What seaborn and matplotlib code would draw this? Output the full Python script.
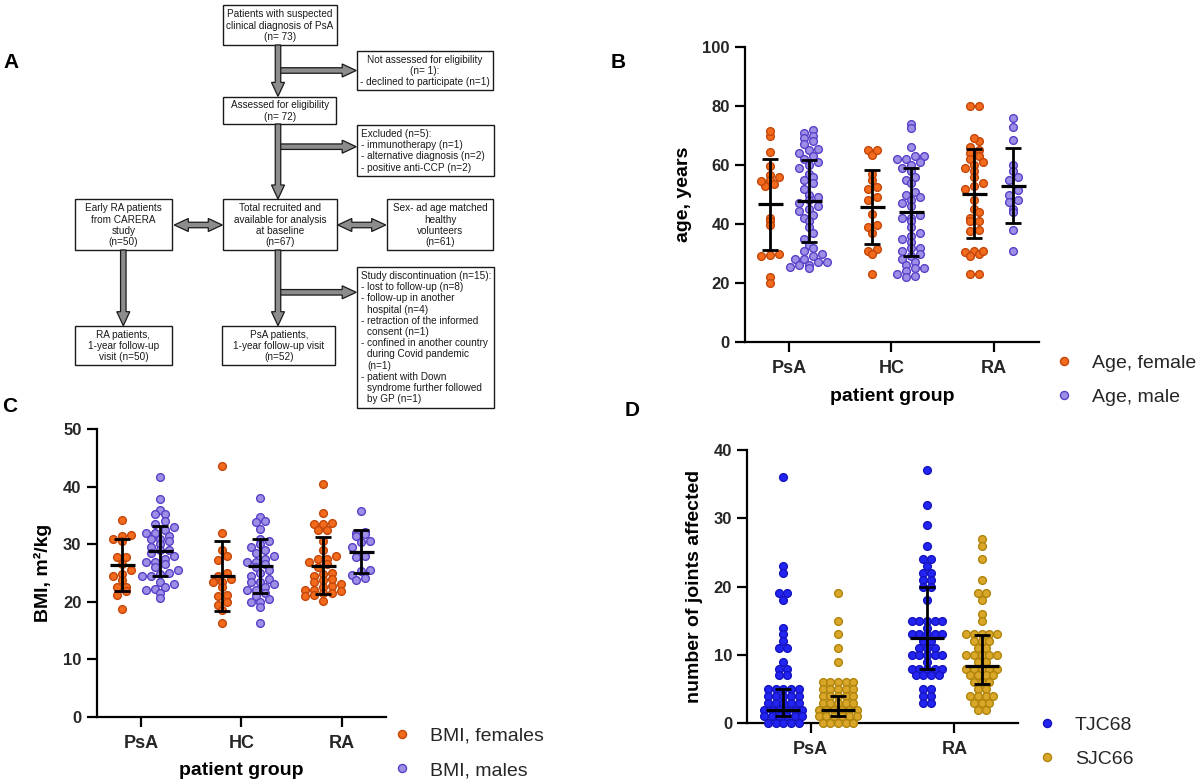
import numpy as np
import pandas as pd
import matplotlib
matplotlib.use("Agg")
import matplotlib.pyplot as plt
import seaborn as sns
from matplotlib.patches import Rectangle, Polygon
from matplotlib.lines import Line2D

# ---------------------------------------------------------------- data
groups_bc = ["PsA", "HC", "RA"]
groups_d = ["PsA", "RA"]

# Panel B : age, years
age_psa_f = [70, 71.5, 64.5, 59.5, 56.5, 56, 55, 53.5, 53, 54.5, 42, 41, 39.5, 30, 29, 29.5, 22, 20]
age_psa_m = [72, 71, 70, 69, 68, 67, 65.5, 65, 64, 63, 62, 61, 60, 59, 57, 56, 55, 54, 52, 50,
             49, 48, 47, 46, 45, 44.5, 43, 42, 41, 39, 37, 35, 33, 32, 31, 30, 29, 28, 28, 27,
             27, 26, 26, 25, 25.5]
age_hc_f = [65, 63.5, 65, 55, 57, 52, 52.5, 49, 48, 43.5, 39.5, 39, 37, 31.5, 31, 30, 23]
age_hc_m = [74, 72.5, 66, 63, 63, 62, 62, 61, 60, 59, 58, 56, 55, 54, 51, 50, 49, 48, 47, 46,
            43, 42, 42, 41, 39, 37, 36, 35, 34, 32, 32, 31, 30, 29, 28, 27, 26, 25, 25, 24,
            23, 22.5, 22]
age_ra_f = [80, 80, 68, 69, 66, 65, 64, 63, 62, 61, 60, 59, 58, 56, 54, 53, 52, 48, 45, 44,
            42, 41, 41, 38, 37.5, 31, 30.5, 29, 30, 31, 23, 23]
age_ra_m = [76, 73, 68.5, 60, 58, 56, 55, 51.5, 50, 48, 47.5, 45, 44, 38, 31]
age_f_mean = [46.8, 45.7, 50.2]
age_f_lo = [31.2, 33.1, 35.1]
age_f_hi = [62.0, 58.3, 65.3]
age_m_mean = [47.8, 44.0, 53.0]
age_m_lo = [33.8, 29.3, 40.5]
age_m_hi = [61.7, 58.9, 65.9]
age_labels = ["Age, female", "Age, male"]
age_yticks = [0, 20, 40, 60, 80, 100]

# Panel C : BMI
bmi_psa_f = [34.2, 31.5, 31.6, 31, 30.5, 27.7, 27.7, 26.5, 25.5, 24.8, 24.5, 23.8, 22.5, 22.5,
             21.8, 21.2, 18.7]
bmi_psa_m = [41.7, 37.9, 36, 35.3, 35.2, 34, 33.5, 33, 32.5, 32, 32, 31.5, 31, 31, 30.5, 30,
             29.5, 29, 29, 28.5, 28, 27.5, 27, 27, 26.5, 26, 25.5, 25, 24.8, 24.5, 24.5, 23.5,
             23, 22.5, 22.2, 22, 21.5, 20.6]
bmi_hc_f = [43.6, 31.9, 29, 28, 27.3, 25, 24.5, 24, 23.5, 23.5, 22.5, 21.2, 21, 20, 19.5, 18.5, 16.3]
bmi_hc_m = [38, 34.7, 34, 33.8, 32.7, 31, 30.5, 30, 29.5, 29, 28.5, 28, 27.5, 27, 27, 26.5, 26,
            25.5, 25, 24.5, 24, 23.5, 23.5, 23, 22.5, 22, 22, 21.5, 21, 20.5, 20, 20, 19, 16.3]
bmi_ra_f = [40.4, 35.5, 33.7, 33.5, 33.6, 32.5, 32.5, 24.8, 30.5, 23.8, 22.8, 29, 21.6, 28, 27.5,
            27.5, 27, 26.5, 26, 25, 24.5, 24, 23.5, 23, 22.5, 22, 22, 21.8, 21.5, 21.2, 21, 20.2]
bmi_ra_m = [35.8, 32.2, 32, 31.8, 31.5, 30.6, 30.4, 29.5, 28, 27.8, 25.6, 25.3, 24.7, 24.2, 23.7]
bmi_f_mean = [26.4, 24.5, 26.2]
bmi_f_lo = [21.9, 18.4, 21.4]
bmi_f_hi = [30.9, 30.6, 31.2]
bmi_m_mean = [28.8, 26.2, 28.6]
bmi_m_lo = [24.5, 21.6, 25.0]
bmi_m_hi = [33.2, 31.0, 32.4]
bmi_labels = ["BMI, females", "BMI, males"]
bmi_yticks = [0, 10, 20, 30, 40, 50]

# Panel D : joint counts
tjc_psa = [36, 23, 22, 19, 19, 18, 14, 13, 12, 11, 11, 9, 8, 8, 7, 7,
           5, 5, 5, 5, 5, 4, 4, 4, 4, 4, 3, 3, 3, 3, 3, 2, 2, 2, 2, 2, 2,
           1, 1, 1, 1, 1, 1, 0, 0, 0, 0, 0]
tjc_ra = [37, 32, 29, 26, 24, 24, 23, 22, 22, 21, 21, 20, 20, 18, 15, 15, 15, 15, 15, 14,
          13, 13, 13, 13, 13, 12, 12, 11, 11, 11, 10, 10, 10, 10, 10, 9, 8, 8, 8, 8, 8,
          7, 7, 7, 7, 5, 5, 4, 4, 3, 3]
sjc_psa = [19, 15, 13, 11, 9, 6, 6, 6, 6, 6, 5, 5, 5, 5, 5, 4, 4, 4, 4, 4, 3, 3, 3, 3, 3,
           2, 2, 2, 2, 2, 2, 1, 1, 1, 1, 1, 1, 0, 0, 0, 0, 0]
sjc_ra = [27, 26, 24, 21, 19, 19, 18, 16, 15, 13, 13, 13, 13, 13, 12, 12, 12, 11, 11, 10, 10,
          10, 10, 10, 9, 9, 8, 8, 8, 8, 8, 7, 7, 7, 7, 6, 6, 6, 5, 5, 4, 4, 4, 4, 3, 3, 3, 2, 2]
tjc_median = [2, 12.5]
tjc_lo = [1, 8]
tjc_hi = [5, 20]
sjc_median = [2, 8.4]
sjc_lo = [1, 5.7]
sjc_hi = [4, 12.9]
joint_labels = ["TJC68", "SJC66"]
joint_yticks = [0, 10, 20, 30, 40]

# Panel A : flowchart texts
fc_top = ["Patients with suspected", "clinical diagnosis of PsA", "(n= 73)"]
fc_not = ["Not assessed for eligibility", "(n= 1):", "- declined to participate (n=1)"]
fc_assessed = ["Assessed for eligibility", "(n= 72)"]
fc_excluded = ["Excluded (n=5):", "- immunotherapy (n=1)", "- alternative diagnosis (n=2)",
               "- positive anti-CCP (n=2)"]
fc_early_ra = ["Early RA patients", "from CARERA", "study", "(n=50)"]
fc_total = ["Total recruited and", "available for analysis", "at baseline", "(n=67)"]
fc_healthy = ["Sex- ad age matched", "healthy", "volunteers", "(n=61)"]
fc_disc = ["Study discontinuation (n=15):", "- lost to follow-up (n=8)", "- follow-up in another",
           "  hospital (n=4)", "- retraction of the informed", "  consent (n=1)",
           "- confined in another country", "  during Covid pandemic", "  (n=1)",
           "- patient with Down", "  syndrome further followed", "  by GP (n=1)"]
fc_ra_fu = ["RA patients,", "1-year follow-up", "visit (n=50)"]
fc_psa_fu = ["PsA patients,", "1-year follow-up visit", "(n=52)"]

# colours
C_F, E_F = "#F26A1B", "#C4470A"
C_M, E_M = "#9E8FE6", "#5A3FC8"
C_T, E_T = "#2424F2", "#1414C0"
C_S, E_S = "#D9A82A", "#B0840A"

# ---------------------------------------------------------------- figure
sns.set_theme(style="ticks")
plt.rcParams["font.family"] = ["Liberation Sans", "DejaVu Sans"]

W, H = 1200, 783
fig = plt.figure(figsize=(12, 7.83), dpi=100)
fig.patch.set_facecolor("white")


def rect(l, r, t, b):
    return [l / W, 1 - b / H, (r - l) / W, (b - t) / H]


# ---------------------------------------------------------------- panel A
axA = fig.add_axes([0, 0, 1, 1])
axA.set_xlim(0, W)
axA.set_ylim(H, 0)
axA.axis("off")

FS_A = 7.2
PITCH = 11.2
TXT = "#1a1a1a"


def box(x0, y0, x1, y1):
    axA.add_patch(Rectangle((x0, y0), x1 - x0, y1 - y0, fill=False, ec=TXT, lw=1.0))


def centered(x0, y0, x1, y1, lines):
    box(x0, y0, x1, y1)
    cx, cy = (x0 + x1) / 2, (y0 + y1) / 2 + 0.6
    n = len(lines)
    for i, s in enumerate(lines):
        axA.text(cx, cy + (i - (n - 1) / 2) * PITCH, s, ha="center", va="center",
                 fontsize=FS_A, color=TXT)


def lefted(x0, y0, x1, y1, lines, y_first):
    box(x0, y0, x1, y1)
    for i, s in enumerate(lines):
        ind = 6.3 if s.startswith("  ") else 0
        axA.text(x0 + 4 + ind, y_first + i * PITCH, s.strip(), ha="left", va="center",
                 fontsize=FS_A, color=TXT)


def arrow(x0, y0, x1, y1, double=False, w=5.5, hw=13, hl=14):
    p0 = np.array([x0, y0], float)
    p1 = np.array([x1, y1], float)
    d = p1 - p0
    u = d / np.hypot(*d)
    n = np.array([-u[1], u[0]])
    b = p1 - u * hl
    if double:
        a = p0 + u * hl
        pts = [p0, a + n * hw / 2, a + n * w / 2, b + n * w / 2, b + n * hw / 2, p1,
               b - n * hw / 2, b - n * w / 2, a - n * w / 2, a - n * hw / 2]
    else:
        pts = [p0 + n * w / 2, b + n * w / 2, b + n * hw / 2, p1, b - n * hw / 2,
               b - n * w / 2, p0 - n * w / 2]
    axA.add_patch(Polygon(pts, closed=True, fc="#8c8c8c", ec=TXT, lw=0.9))


centered(223.3, 5, 336.7, 45, fc_top)
centered(356.7, 50.7, 493, 90, fc_not)
centered(223.3, 96.7, 336, 124, fc_assessed)
lefted(356.7, 125, 494, 176, fc_excluded, 134)
centered(75, 199.3, 171.7, 250, fc_early_ra)
centered(223.3, 199.3, 336.7, 250, fc_total)
centered(387.3, 199.3, 493, 250, fc_healthy)
lefted(356.7, 267.3, 494, 408, fc_disc, 276)
centered(75, 326, 171.7, 365, fc_ra_fu)
centered(222.3, 326, 335.3, 365, fc_psa_fu)

for yy in (70.5, 146.7, 292.3):
    arrow(278, yy, 356.2, yy)
arrow(278, 45, 278, 96.4)
arrow(278, 124, 278, 199.0)
arrow(278, 250, 278, 325.7)
arrow(123.3, 250, 123.3, 325.7)
arrow(174.3, 225, 222.3, 225, double=True)
arrow(337.8, 225, 385.7, 225, double=True)


# ---------------------------------------------------------------- helpers
def column_offsets(vals, row_h, step):
    """GraphPad-style column scatter: points sharing a row are spread sideways."""
    vals = np.asarray(vals, float)
    rows = np.round(vals / row_h).astype(int)
    off = np.zeros(len(vals))
    for r in np.unique(rows):
        idx = np.where(rows == r)[0]
        idx = idx[np.argsort(vals[idx], kind="stable")]
        k = len(idx)
        off[idx] = (np.arange(k) - (k - 1) / 2) * step
    return off


def layout_df(by_hue, dodge, row_h, step):
    recs = []
    for (hue, per_group), dx in zip(by_hue.items(), dodge):
        for gi, vals in enumerate(per_group):
            for v, o in zip(vals, column_offsets(vals, row_h, step)):
                recs.append((gi + dx + o, hue, v))
    return pd.DataFrame(recs, columns=["xpos", "hue", "value"])


def scatter(ax, df, hue_order, fcs, ecs):
    for lvl, fc, ec in zip(hue_order, fcs, ecs):
        sub = df[df["hue"] == lvl]
        sns.scatterplot(data=sub, x="xpos", y="value", color=fc, edgecolor=ec,
                        linewidth=1.0, s=31, ax=ax, legend=False, zorder=3, clip_on=False)


def bars(ax, center, lo, hi, offset, mw, cap):
    x = np.arange(len(center)) + offset
    c = np.array(center)
    ax.errorbar(x, c, yerr=[c - np.array(lo), np.array(hi) - c], fmt="none",
                ecolor="black", elinewidth=2.0, capsize=cap, capthick=2.0, zorder=6,
                clip_on=False)
    ax.plot(x, c, ls="none", marker="_", markersize=mw, mew=2.3, color="black",
            zorder=6, clip_on=False)


def style(ax, groups, yticks, ylim, xlim, ylabel, ylab_x, xlabel=None, xlab_y=None):
    ax.set_facecolor("none")
    ax.set_ylim(*ylim)
    ax.set_xlim(*xlim)
    ax.set_yticks(yticks)
    ax.set_yticklabels([str(t) for t in yticks], fontsize=12, fontweight="bold")
    ax.set_xticks(range(len(groups)))
    ax.set_xticklabels(groups, fontsize=13, fontweight="bold")
    for s in ("top", "right"):
        ax.spines[s].set_visible(False)
    for s in ("left", "bottom"):
        ax.spines[s].set_color("black")
        ax.spines[s].set_linewidth(1.6)
        ax.spines[s].set_zorder(2)
    ax.tick_params(axis="both", length=7, width=1.6, color="black", direction="out")
    ax.tick_params(axis="x", pad=6)
    ax.tick_params(axis="y", pad=4)
    ax.set_ylabel(ylabel, fontsize=14, fontweight="bold", color="black")
    ax.yaxis.set_label_coords(ylab_x, 0.5)
    if xlabel:
        ax.set_xlabel(xlabel, fontsize=14, fontweight="bold", color="black")
        ax.xaxis.set_label_coords(0.5, xlab_y)
    else:
        ax.set_xlabel("")


def legend(ax, labels, fcs, ecs, x_px, y_px):
    handles = [Line2D([], [], ls="none", marker="o", markersize=5.8, markerfacecolor=f,
                      markeredgecolor=e, mew=1.0) for f, e in zip(fcs, ecs)]
    ax.legend(handles, labels, loc="center left", bbox_to_anchor=(x_px / W, 1 - y_px / H),
              bbox_transform=fig.transFigure, frameon=False, fontsize=14,
              handlelength=1.0, handletextpad=0.95, labelspacing=0.87, borderpad=0,
              borderaxespad=0)


# ---------------------------------------------------------------- panel B
axB = fig.add_axes(rect(745, 1039, 47, 342))
df_age = layout_df({age_labels[0]: [age_psa_f, age_hc_f, age_ra_f],
                    age_labels[1]: [age_psa_m, age_hc_m, age_ra_m]},
                   (-0.19, 0.19), 2.4, 0.088)
scatter(axB, df_age, age_labels, [C_F, C_M], [E_F, E_M])
bars(axB, age_f_mean, age_f_lo, age_f_hi, -0.19, 18, 5.8)
bars(axB, age_m_mean, age_m_lo, age_m_hi, 0.19, 18, 5.8)
style(axB, groups_bc, age_yticks, (0, 100), (-0.43, 2.44), "age, years", -0.18,
      "patient group", -0.156)
legend(axB, age_labels, [C_F, C_M], [E_F, E_M], 1054.3, 380)

# ---------------------------------------------------------------- panel C
axC = fig.add_axes(rect(96.7, 386, 429.3, 716.7))
df_bmi = layout_df({bmi_labels[0]: [bmi_psa_f, bmi_hc_f, bmi_ra_f],
                    bmi_labels[1]: [bmi_psa_m, bmi_hc_m, bmi_ra_m]},
                   (-0.19, 0.19), 1.25, 0.09)
scatter(axC, df_bmi, bmi_labels, [C_F, C_M], [E_F, E_M])
bars(axC, bmi_f_mean, bmi_f_lo, bmi_f_hi, -0.19, 18, 5.8)
bars(axC, bmi_m_mean, bmi_m_lo, bmi_m_hi, 0.19, 18, 5.8)
style(axC, groups_bc, bmi_yticks, (0, 50), (-0.44, 2.44), "BMI, m²/kg", -0.155,
      "patient group", -0.157)
legend(axC, bmi_labels, [C_F, C_M], [E_F, E_M], 392.3, 753)

# ---------------------------------------------------------------- panel D
axD = fig.add_axes(rect(747.3, 1017.7, 450, 723.3))
df_j = layout_df({joint_labels[0]: [tjc_psa, tjc_ra],
                  joint_labels[1]: [sjc_psa, sjc_ra]},
                 (-0.19, 0.19), 1.0, 0.053)
scatter(axD, df_j, joint_labels, [C_T, C_S], [E_T, E_S])
bars(axD, tjc_median, tjc_lo, tjc_hi, -0.19, 24, 6.1)
bars(axD, sjc_median, sjc_lo, sjc_hi, 0.19, 24, 6.1)
style(axD, groups_d, joint_yticks, (0, 40), (-0.44, 1.44), "number of joints affected",
      -0.164)
legend(axD, joint_labels, [C_T, C_S], [E_T, E_S], 1037, 742)

# ---------------------------------------------------------------- panel letters
for letter, (px, py) in {"A": (11, 62), "B": (618, 62), "C": (10, 407), "D": (632, 411)}.items():
    fig.text(px / W, 1 - py / H, letter, fontsize=15, fontweight="bold", ha="center",
             va="center", color="black")

fig.savefig("out.png", dpi=100)
